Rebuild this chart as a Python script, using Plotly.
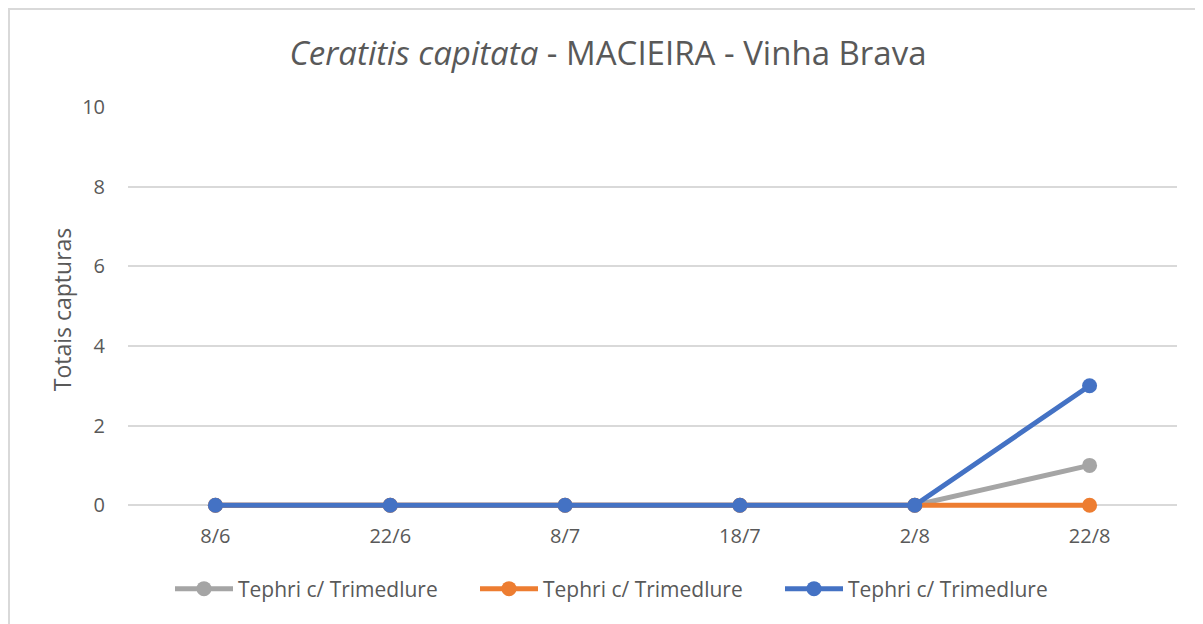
import plotly.graph_objects as go

datas = ["8/6", "22/6", "8/7", "18/7", "2/8", "22/8"]
serie_cinza = [0, 0, 0, 0, 0, 1]
serie_laranja = [0, 0, 0, 0, 0, 0]
serie_azul = [0, 0, 0, 0, 0, 3]
nomes = ["Tephri c/ Trimedlure", "Tephri c/ Trimedlure", "Tephri c/ Trimedlure"]
cores = ["#A5A5A5", "#ED7D31", "#4472C4"]

# a página tem 8px de margem no body
OFF = 8
W, H = 1203 - OFF, 624 - OFF
Y_MIN = -0.17
ML, MR, MT = 128 - OFF, 26, 107 - OFF
MB = H - (505 - OFF) - round(-Y_MIN * 39.8)
pw, ph = W - ML - MR, H - MT - MB

def px_x(x):
    return (x - OFF - ML) / pw

def px_y(y):
    return (H - MB - (y - OFF)) / ph

fig = go.Figure()
for nome, serie, cor in zip(nomes, [serie_cinza, serie_laranja, serie_azul], cores):
    fig.add_trace(go.Scatter(x=datas, y=serie, name=nome, mode='lines+markers',
                             line=dict(color=cor, width=5),
                             marker=dict(color=cor, size=15), cliponaxis=False))

# moldura do gráfico (cantos superior e esquerdo)
fig.add_shape(type='line', xref='paper', yref='paper', x0=px_x(9), x1=px_x(9),
              y0=px_y(9), y1=px_y(624), line=dict(color='#D9D9D9', width=2))
fig.add_shape(type='line', xref='paper', yref='paper', x0=px_x(8), x1=px_x(1203),
              y0=px_y(9), y1=px_y(9), line=dict(color='#D9D9D9', width=2))

fig.update_layout(
    width=W, height=H,
    margin=dict(l=ML, r=MR, t=MT, b=MB),
    paper_bgcolor='white', plot_bgcolor='white',
    font=dict(family='Open Sans', color='#595959'),
    title=dict(text='<i>Ceratitis capitata</i> - MACIEIRA - Vinha Brava',
               x=px_x(608), xanchor='center', xref='paper', y=1 - (53 - OFF) / H, yanchor='middle',
               font=dict(size=33, color='#595959')),
    showlegend=True,
    legend=dict(orientation='h', x=px_x(170), xanchor='left', y=px_y(589), yanchor='middle',
                font=dict(size=21, color='#595959'), itemwidth=58, traceorder='normal',
                entrywidth=232),
)
fig.update_xaxes(type='category', range=[-0.5, 5.5], showgrid=False, showline=False,
                 ticks='', tickfont=dict(size=20, color='#595959'), zeroline=False,
                 ticklabelstandoff=10)
fig.update_yaxes(range=[Y_MIN, 10], tickvals=[0, 2, 4, 6, 8, 10], showgrid=True,
                 gridcolor='#D9D9D9', gridwidth=1.5,
                 zeroline=False, showline=False, ticks='', ticklabelstandoff=22,
                 tickfont=dict(size=20, color='#595959'),
                 title=dict(text='Totais capturas', font=dict(size=23, color='#595959'), standoff=4))

fig.write_html("out.html")
